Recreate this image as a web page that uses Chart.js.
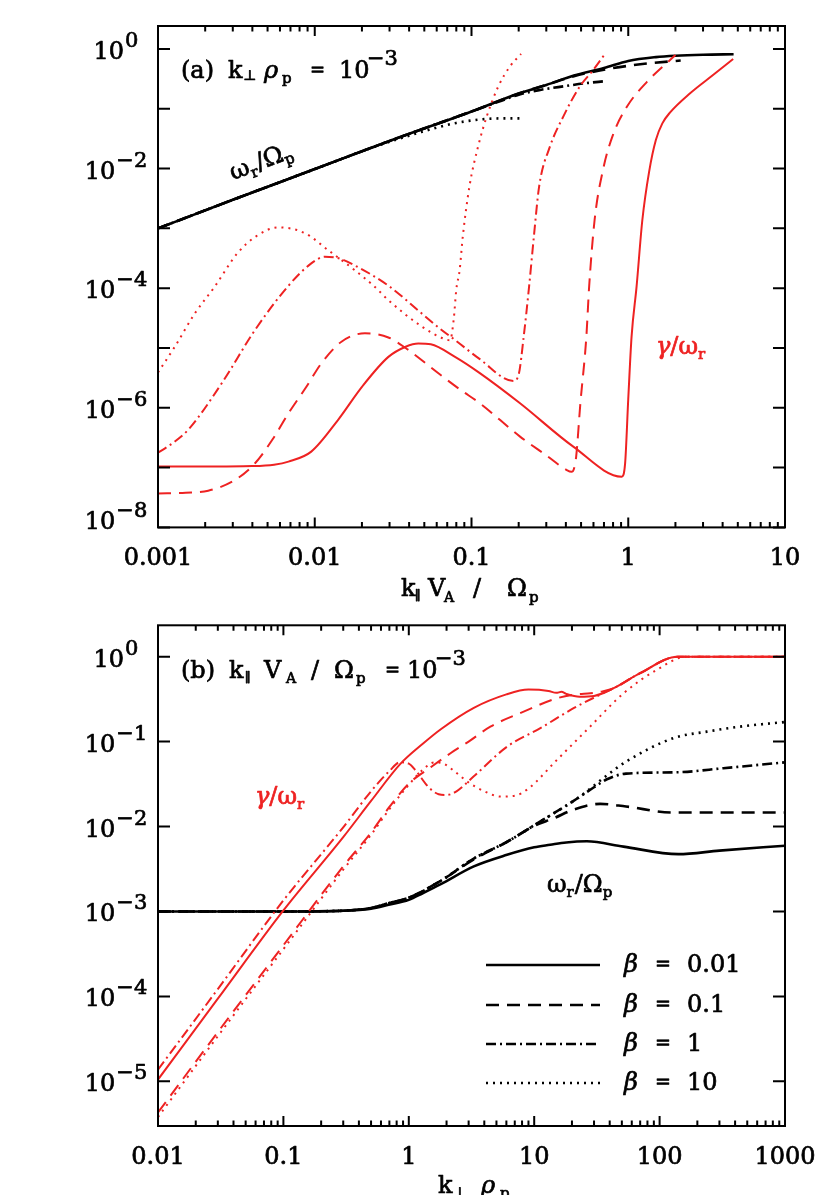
<!DOCTYPE html>
<html lang="en">
<head>
<meta charset="UTF-8" />
<title>KAW growth rates</title>
<style>
  body { margin: 0; background: #fff; }
  #wrap { position: relative; width: 830px; height: 1195px; overflow: hidden; background: #fff; }
  canvas { position: absolute; left: 0; }
  #cA { top: 0; }
  #cB { top: 600px; }
</style>
</head>
<body>
<div id="wrap">
  <canvas id="cA" width="830" height="620"></canvas>
  <canvas id="cB" width="830" height="595"></canvas>
</div>

<script src="https://cdn.jsdelivr.net/npm/chart.js"></script>
<script>
// ---- panel (a): x = k_par V_A / Omega_p, k_perp rho_p = 1e-3 ----
// omega_r / Omega_p (black)
const aK_w1 = [0.001, 0.003, 0.01, 0.03, 0.1, 0.2, 0.3, 0.45, 0.7, 1, 1.5, 2, 3, 4.7];
const aW1   = [0.001, 0.003, 0.0098, 0.029, 0.09, 0.18, 0.25, 0.36, 0.48, 0.63, 0.73, 0.77, 0.8, 0.815];
const aK_w2 = [0.001, 0.003, 0.01, 0.03, 0.1, 0.2, 0.3, 0.45, 0.73, 1.23, 2.16];
const aW2   = [0.001, 0.003, 0.0098, 0.029, 0.09, 0.18, 0.25, 0.35, 0.46, 0.56, 0.64];
const aK_w3 = [0.001, 0.003, 0.01, 0.03, 0.1, 0.15, 0.2, 0.27, 0.4, 0.52, 0.72];
const aW3   = [0.001, 0.003, 0.0098, 0.029, 0.09, 0.132, 0.172, 0.205, 0.24, 0.265, 0.29];
const aK_w4 = [0.001, 0.003, 0.01, 0.02, 0.03, 0.048, 0.063, 0.08, 0.113, 0.15, 0.21];
const aW4   = [0.001, 0.003, 0.0098, 0.0195, 0.028, 0.041, 0.05, 0.058, 0.066, 0.069, 0.069];
// gamma / omega_r (red)
const aK_g1 = [0.001, 0.002, 0.004, 0.0055, 0.0068, 0.0095, 0.0141, 0.02, 0.0295, 0.038, 0.0458, 0.055, 0.0785, 0.113, 0.204, 0.446, 0.908, 0.955, 1.0, 1.05, 1.13, 1.23, 1.36, 1.5, 1.65, 1.85, 2.47, 3.49, 4.67];
const aG1   = [1.04e-7, 1.04e-7, 1.06e-7, 1.12e-7, 1.26e-7, 1.85e-7, 6.3e-7, 2.24e-6, 7.1e-6, 1.05e-5, 1.19e-5, 1.15e-5, 7.1e-6, 3.8e-6, 1.19e-6, 2.24e-7, 7.05e-8, 1.18e-7, 1.4e-6, 1.55e-5, 1.06e-4, 1.38e-3, 9.0e-3, 0.03, 0.057, 0.087, 0.18, 0.37, 0.68];
const aK_g2 = [0.001, 0.0015, 0.00209, 0.0031, 0.00416, 0.0054, 0.00678, 0.0088, 0.011, 0.0148, 0.0209, 0.0295, 0.038, 0.048, 0.063, 0.085, 0.113, 0.204, 0.3, 0.405, 0.435, 0.45, 0.465, 0.495, 0.54, 0.563, 0.61, 0.69, 0.8, 0.98, 1.32, 2.0];
const aG2   = [3.7e-8, 3.8e-8, 4.1e-8, 6.2e-8, 1.18e-7, 3e-7, 8e-7, 2.2e-6, 5.5e-6, 1.27e-5, 1.76e-5, 1.5e-5, 1.0e-5, 6.3e-6, 3.6e-6, 2.0e-6, 1.19e-6, 3.3e-7, 1.6e-7, 9.1e-8, 8.5e-8, 9.5e-8, 1.5e-7, 1.19e-6, 1.5e-5, 1.06e-4, 1.38e-3, 9.5e-3, 0.037, 0.108, 0.284, 0.79];
const aK_g3 = [0.001, 0.00125, 0.00156, 0.00255, 0.00416, 0.0068, 0.0095, 0.0116, 0.014, 0.018, 0.0295, 0.048, 0.063, 0.0785, 0.113, 0.185, 0.2, 0.215, 0.233, 0.25, 0.27, 0.316, 0.385, 0.49, 0.6, 0.72];
const aG3   = [1.77e-7, 2.6e-7, 4.3e-7, 2.57e-6, 2e-5, 1.1e-4, 2.6e-4, 3.36e-4, 3.2e-4, 2.4e-4, 1.1e-4, 3.8e-5, 2.1e-5, 1.36e-5, 6.5e-6, 2.8e-6, 3.6e-6, 1.5e-5, 1.06e-4, 7.3e-4, 5e-3, 0.023, 0.074, 0.234, 0.45, 0.87];
const aK_g4 = [0.001, 0.00128, 0.00172, 0.0023, 0.0032, 0.0042, 0.00588, 0.00865, 0.0122, 0.018, 0.0241, 0.0295, 0.048, 0.068, 0.073, 0.077, 0.08, 0.084, 0.088, 0.097, 0.11, 0.125, 0.148, 0.175, 0.207];
const aG4   = [3.9e-6, 1.05e-5, 3.8e-5, 1.06e-4, 3.8e-4, 7.3e-4, 1.04e-3, 8.3e-4, 4.3e-4, 2e-4, 1.06e-4, 6.3e-5, 2.3e-5, 1.4e-5, 1.35e-5, 3e-5, 9.5e-5, 2e-4, 7.3e-4, 5e-3, 0.023, 0.074, 0.234, 0.5, 0.825];

// ---- panel (b): x = k_perp rho_p, k_par V_A / Omega_p = 1e-3 ----
const bK_w1 = [0.01, 0.1, 0.3, 0.5, 0.69, 1.0, 1.3, 1.8, 3.3, 6.07, 10, 13.4, 18, 26.3, 51.5, 141, 300, 1000];
const bW1   = [1e-3, 1e-3, 1.02e-3, 1.08e-3, 1.2e-3, 1.37e-3, 1.65e-3, 2.1e-3, 3.4e-3, 4.65e-3, 5.7e-3, 6.1e-3, 6.5e-3, 6.7e-3, 5.8e-3, 4.73e-3, 5.2e-3, 5.95e-3];
const bK_w2 = [0.01, 0.1, 0.3, 0.5, 0.69, 1.0, 1.8, 3.3, 6.07, 10, 14.3, 20.6, 33.6, 54, 129, 1000];
const bW2   = [1e-3, 1e-3, 1.02e-3, 1.1e-3, 1.25e-3, 1.45e-3, 2.3e-3, 4.1e-3, 6.6e-3, 0.0102, 0.0125, 0.0158, 0.0185, 0.0172, 0.0146, 0.0146];
const bK_w3 = [0.01, 0.1, 0.3, 0.5, 0.69, 1.0, 1.8, 3.3, 6.07, 11.2, 20.6, 30, 38, 54, 141, 322, 1000];
const bW3   = [1e-3, 1e-3, 1.02e-3, 1.1e-3, 1.25e-3, 1.45e-3, 2.3e-3, 4.2e-3, 6.6e-3, 0.0115, 0.02, 0.029, 0.036, 0.042, 0.0436, 0.0486, 0.057];
const bK_w4 = [0.01, 0.1, 0.3, 0.5, 0.69, 1.0, 1.8, 3.3, 6.07, 11.2, 20.6, 26.3, 38, 54, 129, 238, 437, 1000];
const bW4   = [1e-3, 1e-3, 1.02e-3, 1.1e-3, 1.25e-3, 1.45e-3, 2.3e-3, 4.2e-3, 6.6e-3, 0.0115, 0.02, 0.026, 0.04, 0.058, 0.11, 0.131, 0.15, 0.17];
const bK_g1 = [0.01, 0.03, 0.1, 0.3, 0.5, 0.86, 1.3, 1.8, 3.3, 6, 9, 13, 15, 16.5, 18, 23, 30, 43, 70, 140, 1000];
const bG1   = [1.05e-5, 9.4e-5, 1.03e-3, 7.5e-3, 0.02, 0.055, 0.095, 0.14, 0.25, 0.36, 0.41, 0.395, 0.375, 0.385, 0.365, 0.338, 0.345, 0.425, 0.64, 1.0, 1.0];
const bK_g2 = [0.01, 0.03, 0.1, 0.3, 0.5, 0.7, 1.0, 1.5, 2.15, 3, 4.47, 8.24, 15.2, 22, 28, 35, 43, 70, 140, 1000];
const bG2   = [4.3e-6, 3.8e-5, 4e-4, 3.4e-3, 8.5e-3, 0.017, 0.032, 0.05, 0.073, 0.1, 0.15, 0.225, 0.324, 0.36, 0.37, 0.39, 0.425, 0.64, 1.0, 1.0];
const bK_g3 = [0.01, 0.03, 0.1, 0.3, 0.5, 0.7, 0.85, 1.0, 1.13, 1.44, 1.73, 2.0, 2.4, 3.3, 6.07, 11.2, 20.6, 38, 43, 70, 140, 1000];
const bG3   = [1.37e-5, 1.22e-4, 1.35e-3, 9.8e-3, 0.026, 0.045, 0.057, 0.055, 0.046, 0.029, 0.024, 0.0235, 0.026, 0.039, 0.087, 0.144, 0.247, 0.39, 0.425, 0.64, 1.0, 1.0];
const bK_g4 = [0.01, 0.03, 0.1, 0.3, 0.5, 0.7, 1.0, 1.3, 1.6, 1.9, 2.3, 3.0, 4.0, 5.4, 7, 9, 15.2, 27.9, 51.5, 95, 164, 1000];
const bG4   = [3.8e-6, 3.4e-5, 3.6e-4, 3.1e-3, 8e-3, 0.016, 0.031, 0.047, 0.057, 0.055, 0.045, 0.033, 0.026, 0.0225, 0.023, 0.028, 0.061, 0.15, 0.37, 0.7, 1.0, 1.0];

// tick labels
const aXTicks = ['0.001', '0.01', '0.1', '1', '10'];
const aYExp   = [0, -2, -4, -6, -8];
const bXTicks = ['0.01', '0.1', '1', '10', '100', '1000'];
const bYExp   = [0, -1, -2, -3, -4, -5];
const betas   = ['0.01', '0.1', '1', '10'];

const RED = 'rgb(238,34,34)';
const FONT = "'DejaVu Serif', 'Liberation Serif', serif";
const DASHES = [[], [13, 8], [10, 4, 2, 4], [2, 5]];

function pts(ks, vs) { return ks.map((k, i) => ({ x: k, y: vs[i] })); }

function font(size, italic) { return (italic ? 'italic ' : '') + size + 'px ' + FONT; }

// slightly heavier than regular: fill plus a thin outline
function txt(ctx, t, x, y) {
  ctx.fillText(t, x, y);
  ctx.strokeStyle = ctx.fillStyle;
  ctx.lineWidth = 0.7;
  ctx.lineJoin = 'round';
  ctx.strokeText(t, x, y);
}

// parts: [text, size, rise, italic, extraGap]
function flowWidth(ctx, parts) {
  let w = 0;
  for (const p of parts) { ctx.font = font(p[1], p[3]); w += ctx.measureText(p[0]).width + (p[4] || 0); }
  return w;
}
function flow(ctx, parts, x, y) {
  for (const p of parts) {
    ctx.font = font(p[1], p[3]);
    txt(ctx, p[0], x, y - (p[2] || 0));
    x += ctx.measureText(p[0]).width + (p[4] || 0);
  }
  return x;
}
// items: [text, x, baseline, size, italic]
function put(ctx, items, color) {
  ctx.fillStyle = color;
  for (const [t, x, y, s, it] of items) { ctx.font = font(s, it); txt(ctx, t, x, y); }
}
function expLabel(e) { return e === 0 ? '0' : '\u2212' + Math.abs(e); }

function frame(chart, xDec, yExp, xLabels) {
  const { ctx, chartArea: a, scales: { x, y } } = chart;
  ctx.save();
  ctx.strokeStyle = '#000';
  ctx.fillStyle = '#000';
  ctx.lineWidth = 2;
  ctx.strokeRect(a.left, a.top, a.right - a.left, a.bottom - a.top);
  ctx.beginPath();
  for (let d = xDec[0]; d < xDec[1]; d++) {
    for (let m = 1; m <= 9; m++) {
      const px = x.getPixelForValue(m * Math.pow(10, d));
      const len = m === 1 ? 10 : 5.5;
      ctx.moveTo(px, a.bottom); ctx.lineTo(px, a.bottom - len);
      ctx.moveTo(px, a.top); ctx.lineTo(px, a.top + len);
    }
  }
  for (let e = Math.ceil(Math.log10(y.min)); e <= Math.floor(Math.log10(y.max)); e++) {
    const py = y.getPixelForValue(Math.pow(10, e));
    ctx.moveTo(a.left, py); ctx.lineTo(a.left + 12, py);
    ctx.moveTo(a.right, py); ctx.lineTo(a.right - 12, py);
  }
  ctx.stroke();

  ctx.textAlign = 'left';
  ctx.textBaseline = 'alphabetic';
  // x tick labels
  xLabels.forEach((t, i) => {
    const px = x.getPixelForValue(Math.pow(10, xDec[0] + i));
    ctx.font = font(24);
    const w = ctx.measureText(t).width;
    txt(ctx, t, px - w / 2, a.bottom + 38);
  });
  // y tick labels 10^e (the one sitting on the bottom axis is lifted a little)
  yExp.forEach(e => {
    const py = y.getPixelForValue(Math.pow(10, e));
    const lift = py > a.bottom - 4 ? 8 : 0;
    const parts = [['10', 24, 0, false, 1], [expLabel(e), 21, 12]];
    const w = flowWidth(ctx, parts);
    flow(ctx, parts, 116 - w / 2, py + 10 - lift);
  });
  ctx.restore();
}

function makeChart(id, top, sets, xr, yr, decor) {
  const datasets = sets.map(s => ({
    data: pts(s.k, s.v),
    borderColor: s.color,
    borderWidth: s.color === RED ? 2 : 2.6,
    borderDash: DASHES[s.style],
    pointRadius: 0,
    fill: false,
    cubicInterpolationMode: 'monotone',
    borderJoinStyle: 'round'
  }));
  return new Chart(document.getElementById(id), {
    type: 'line',
    data: { datasets },
    options: {
      responsive: false,
      animation: false,
      devicePixelRatio: 1,
      events: [],
      layout: { padding: decor.pad },
      plugins: { legend: { display: false }, tooltip: { enabled: false } },
      scales: {
        x: { type: 'logarithmic', min: xr[0], max: xr[1], display: false },
        y: { type: 'logarithmic', min: yr[0], max: yr[1], display: false }
      }
    },
    plugins: [{
      id: 'idlFrame',
      afterDraw(chart) {
        const ctx = chart.ctx;
        frame(chart, decor.xDec, decor.yExp, decor.xLabels);
        ctx.save();
        ctx.translate(0, -top);
        decor.text(ctx);
        ctx.restore();
      }
    }]
  });
}

// ---- panel (a) ----
makeChart('cA', 0, [
  { k: aK_g1, v: aG1, color: RED, style: 0 },
  { k: aK_g2, v: aG2, color: RED, style: 1 },
  { k: aK_g3, v: aG3, color: RED, style: 2 },
  { k: aK_g4, v: aG4, color: RED, style: 3 },
  { k: aK_w1, v: aW1, color: '#000', style: 0 },
  { k: aK_w2, v: aW2, color: '#000', style: 1 },
  { k: aK_w3, v: aW3, color: '#000', style: 2 },
  { k: aK_w4, v: aW4, color: '#000', style: 3 }
], [0.001, 10], [1e-8, 2.42], {
  pad: { left: 158, right: 45, top: 26, bottom: 620 - 527.4 },
  xDec: [-3, 1], yExp: aYExp, xLabels: aXTicks,
  text(ctx) {
    put(ctx, [
      ['(a)', 181, 78, 24], ['k', 228, 78, 24], ['\u22a5', 243, 80, 14],
      ['\u03c1', 264, 78, 24, true], ['p', 282, 83, 15],
      ['=', 310, 76, 18], ['10', 339, 78, 24], ['\u22123', 367, 65, 21]
    ], '#000');
    // x title
    put(ctx, [
      ['k', 401, 596, 24], ['\u2225', 415, 600, 13], ['V', 428, 596, 24], ['A', 444, 602, 14],
      ['/', 473, 596, 24], ['\u03a9', 507, 596, 24], ['p', 529, 602, 15]
    ], '#000');
    // rotated omega_r / Omega_p along the black line
    ctx.save();
    ctx.translate(261, 162);
    ctx.rotate(-21 * Math.PI / 180);
    ctx.fillStyle = '#000';
    const wl = [['\u03c9', 24], ['r', 15, -5, false, 1], ['/', 24], ['\u03a9', 24], ['p', 15, -5]];
    flow(ctx, wl, -flowWidth(ctx, wl) / 2, 7);
    ctx.restore();
    ctx.fillStyle = RED;
    flow(ctx, [['\u03b3', 24, 0, true], ['/', 24], ['\u03c9', 24], ['r', 15, -5]], 656, 354);
  }
});

// ---- panel (b) ----
makeChart('cB', 600, [
  { k: bK_g1, v: bG1, color: RED, style: 0 },
  { k: bK_g2, v: bG2, color: RED, style: 1 },
  { k: bK_g3, v: bG3, color: RED, style: 2 },
  { k: bK_g4, v: bG4, color: RED, style: 3 },
  { k: bK_w1, v: bW1, color: '#000', style: 0 },
  { k: bK_w2, v: bW2, color: '#000', style: 1 },
  { k: bK_w3, v: bW3, color: '#000', style: 2 },
  { k: bK_w4, v: bW4, color: '#000', style: 3 }
], [0.01, 1000], [2.98e-6, 2.34], {
  pad: { left: 158, right: 45, top: 25.3, bottom: 1195 - 1126 },
  xDec: [-2, 3], yExp: bYExp, xLabels: bXTicks,
  text(ctx) {
    put(ctx, [
      ['(b)', 181, 678, 24], ['k', 229, 678, 24], ['\u2225', 245, 682, 13],
      ['V', 264, 678, 24], ['A', 286, 683, 14], ['/', 311, 678, 24],
      ['\u03a9', 334, 678, 24], ['p', 356, 683, 15],
      ['=', 385, 676, 18], ['10', 407, 678, 24], ['\u22123', 435, 665, 21]
    ], '#000');
    put(ctx, [['k', 438, 1193, 24], ['\u22a5', 453, 1197, 14], ['\u03c1', 481, 1193, 24, true], ['p', 500, 1198, 15]], '#000');
    ctx.fillStyle = RED;
    flow(ctx, [['\u03b3', 24, 0, true], ['/', 24], ['\u03c9', 24], ['r', 15, -5]], 255, 804);
    ctx.fillStyle = '#000';
    flow(ctx, [['\u03c9', 24], ['r', 15, -5, false, 1], ['/', 24], ['\u03a9', 24], ['p', 15, -5]], 547, 892);
    // legend
    const rows = [965, 1005, 1044, 1083];
    rows.forEach((ry, i) => {
      ctx.strokeStyle = '#000';
      ctx.lineWidth = 2.4;
      ctx.setLineDash(DASHES[i]);
      ctx.beginPath(); ctx.moveTo(486, ry); ctx.lineTo(600, ry); ctx.stroke();
      ctx.setLineDash([]);
      put(ctx, [['\u03b2', 624, ry + 7, 24, true], ['=', 655, ry + 5, 19], [betas[i], 687, ry + 7, 24]], '#000');
    });
  }
});
</script>
</body>
</html>
